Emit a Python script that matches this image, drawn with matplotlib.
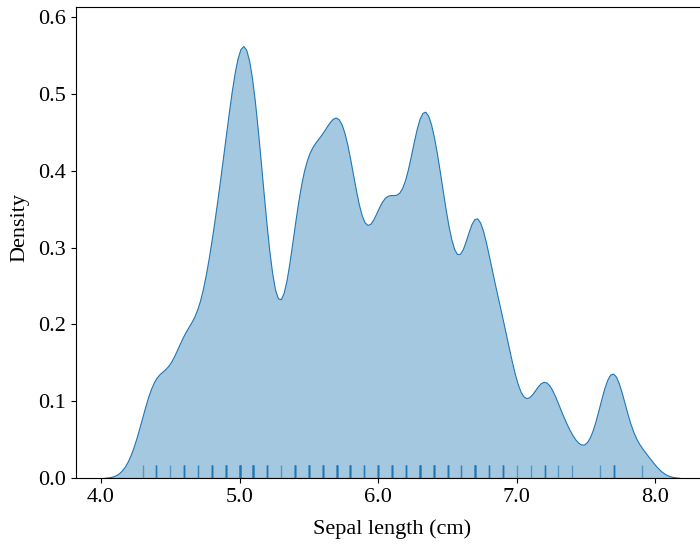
import numpy as np
import matplotlib.pyplot as plt
import seaborn as sns

# iris sepal length: unique values and how often each occurs
sepal_values = [4.3, 4.4, 4.5, 4.6, 4.7, 4.8, 4.9, 5.0, 5.1, 5.2, 5.3, 5.4,
                5.5, 5.6, 5.7, 5.8, 5.9, 6.0, 6.1, 6.2, 6.3, 6.4, 6.5, 6.6,
                6.7, 6.8, 6.9, 7.0, 7.1, 7.2, 7.3, 7.4, 7.6, 7.7, 7.9]
sepal_counts = [1, 3, 1, 4, 2, 5, 6, 10, 9, 4, 1, 6,
                7, 6, 8, 7, 3, 6, 6, 4, 9, 7, 5, 2,
                8, 3, 4, 1, 1, 3, 1, 1, 1, 4, 1]
sepal_length = np.repeat(sepal_values, sepal_counts)

xticks = [4.0, 5.0, 6.0, 7.0, 8.0]
yticks = [0.0, 0.1, 0.2, 0.3, 0.4, 0.5, 0.6]

plt.rcParams['font.family'] = ['Liberation Serif', 'DejaVu Serif']
plt.rcParams['font.size'] = 16

fig = plt.figure(figsize=(7, 5.44), dpi=100)
ax = fig.add_axes([0.1086, 0.1213, 0.903, 0.8657])

sns.kdeplot(x=sepal_length, bw_adjust=0.3, fill=True, color='#1f77b4',
            alpha=0.4, linewidth=0.8, ax=ax)
sns.rugplot(x=sepal_length, height=0.027, color='#1f77b4', alpha=0.6,
            linewidth=1, ax=ax)

ax.set_xlim(3.82, 8.38)
ax.set_ylim(0, 0.613)
ax.set_xticks(xticks)
ax.set_xticklabels(['%.1f' % t for t in xticks])
ax.set_yticks(yticks)
ax.set_yticklabels(['%.1f' % t for t in yticks])
ax.tick_params(labelsize=16)
ax.set_xlabel('Sepal length (cm)', fontsize=16, labelpad=9)
ax.set_ylabel('Density', fontsize=16)
ax.yaxis.set_label_coords(-0.074, 0.533)
ax.spines['right'].set_visible(False)

fig.savefig('out.png', dpi=100)
